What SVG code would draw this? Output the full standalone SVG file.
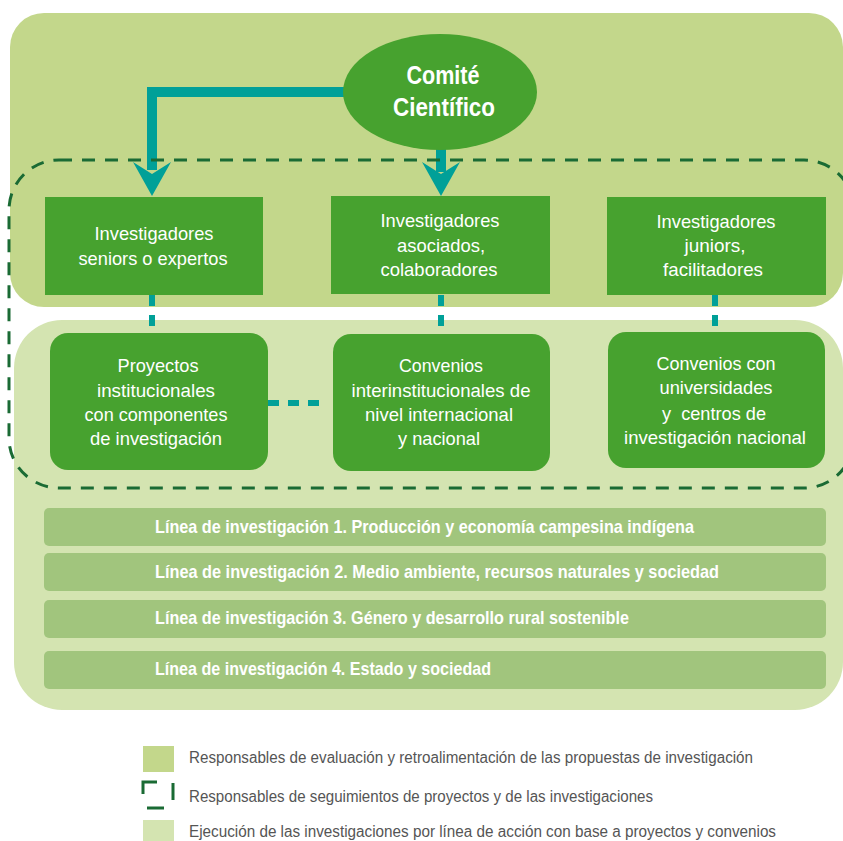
<svg xmlns="http://www.w3.org/2000/svg" width="843" height="841" viewBox="0 0 843 841">
<defs>
<style>
.t{font-family:"Liberation Sans Narrow","Liberation Sans",Arial,sans-serif;fill:#fff;font-size:19px;text-anchor:middle}
.b{font-family:"Liberation Sans Narrow","Liberation Sans",Arial,sans-serif;fill:#fff;font-size:19px;font-weight:bold}
.c{font-family:"Liberation Sans Narrow","Liberation Sans",Arial,sans-serif;fill:#fff;font-size:26px;font-weight:bold;text-anchor:middle}
.l{font-family:"Liberation Sans Narrow","Liberation Sans",Arial,sans-serif;fill:#555;font-size:16px}
.box{fill:#47A22F}
.bar{fill:#A1C57D}
.teal{fill:#00A098}
.td{stroke:#00A098;stroke-width:6;fill:none;stroke-dasharray:11 9}
</style>
</defs>
<rect width="843" height="841" fill="#fff"/>
<!-- panels -->
<rect id="panel-top" x="10" y="13" width="833" height="294" rx="34" fill="#C3D78B"/>
<rect id="panel-bottom" x="14" y="320" width="829" height="390" rx="48" fill="#D4E4B1"/>

<g id="connectors">
<path class="teal" d="M147,87 H350 V97 H157 V170 H147 Z"/>
<polygon class="teal" points="133,162 152,174 171,162 152,196"/>
<rect class="teal" x="436" y="140" width="10" height="32"/>
<polygon class="teal" points="422,162 441,174 460,162 441,196"/>
<line class="td" x1="152" y1="295" x2="152" y2="333"/>
<line class="td" x1="441" y1="295" x2="441" y2="333"/>
<line class="td" x1="715" y1="295" x2="715" y2="333"/>
<line class="td" x1="268" y1="403" x2="328" y2="403"/>
</g>

<rect id="dashed-frame" x="9" y="160" width="845" height="328" rx="50" fill="none" stroke="#1A6B34" stroke-width="3" stroke-dasharray="13 10"/>

<g id="comite">
<ellipse cx="440" cy="92" rx="97" ry="58" class="box"/>
<text class="c" x="443" y="84" textLength="73" lengthAdjust="spacingAndGlyphs">Comité</text>
<text class="c" x="444" y="116" textLength="102" lengthAdjust="spacingAndGlyphs">Científico</text>
</g>

<g id="inv-seniors">
<rect class="box" x="45" y="197" width="218" height="98"/>
<text class="t" x="154" y="240" textLength="119" lengthAdjust="spacingAndGlyphs">Investigadores</text>
<text class="t" x="153" y="265" textLength="149" lengthAdjust="spacingAndGlyphs">seniors o expertos</text>
</g>
<g id="inv-asociados">
<rect class="box" x="331" y="196" width="219" height="98"/>
<text class="t" x="440" y="227" textLength="119" lengthAdjust="spacingAndGlyphs">Investigadores</text>
<text class="t" x="441" y="252" textLength="88" lengthAdjust="spacingAndGlyphs">asociados,</text>
<text class="t" x="439" y="276" textLength="117" lengthAdjust="spacingAndGlyphs">colaboradores</text>
</g>
<g id="inv-juniors">
<rect class="box" x="607" y="197" width="219" height="98"/>
<text class="t" x="716" y="228" textLength="119" lengthAdjust="spacingAndGlyphs">Investigadores</text>
<text class="t" x="715" y="252" textLength="61" lengthAdjust="spacingAndGlyphs">juniors,</text>
<text class="t" x="713" y="276" textLength="100" lengthAdjust="spacingAndGlyphs">facilitadores</text>
</g>

<g id="proyectos">
<rect class="box" x="50" y="333" width="218" height="137" rx="18"/>
<text class="t" x="158" y="372" textLength="81" lengthAdjust="spacingAndGlyphs">Proyectos</text>
<text class="t" x="156" y="397" textLength="118" lengthAdjust="spacingAndGlyphs">institucionales</text>
<text class="t" x="156" y="421" textLength="143" lengthAdjust="spacingAndGlyphs">con componentes</text>
<text class="t" x="156" y="445" textLength="132" lengthAdjust="spacingAndGlyphs">de investigación</text>
</g>
<g id="convenios-inter">
<rect class="box" x="333" y="334" width="217" height="137" rx="18"/>
<text class="t" x="441" y="372" textLength="84" lengthAdjust="spacingAndGlyphs">Convenios</text>
<text class="t" x="441" y="397" textLength="179" lengthAdjust="spacingAndGlyphs">interinstitucionales de</text>
<text class="t" x="439" y="421" textLength="148" lengthAdjust="spacingAndGlyphs">nivel internacional</text>
<text class="t" x="439" y="445" textLength="82" lengthAdjust="spacingAndGlyphs">y nacional</text>
</g>
<g id="convenios-univ">
<rect class="box" x="608" y="332" width="217" height="136" rx="18"/>
<text class="t" x="716" y="370" textLength="119" lengthAdjust="spacingAndGlyphs">Convenios con</text>
<text class="t" x="716" y="394" textLength="113" lengthAdjust="spacingAndGlyphs">universidades</text>
<text class="t" x="714" y="420" textLength="104" lengthAdjust="spacingAndGlyphs" xml:space="preserve">y  centros de</text>
<text class="t" x="715" y="444" textLength="182" lengthAdjust="spacingAndGlyphs">investigación nacional</text>
</g>

<g id="linea-1">
<rect class="bar" x="44" y="508" width="782" height="38" rx="5"/>
<text class="b" x="155" y="533" textLength="539" lengthAdjust="spacingAndGlyphs">Línea de investigación 1. Producción y economía campesina indígena</text>
</g>
<g id="linea-2">
<rect class="bar" x="44" y="553" width="782" height="38" rx="5"/>
<text class="b" x="155" y="578" textLength="564" lengthAdjust="spacingAndGlyphs">Línea de investigación 2. Medio ambiente, recursos naturales y sociedad</text>
</g>
<g id="linea-3">
<rect class="bar" x="44" y="600" width="782" height="38" rx="5"/>
<text class="b" x="155" y="624" textLength="474" lengthAdjust="spacingAndGlyphs">Línea de investigación 3. Género y desarrollo rural sostenible</text>
</g>
<g id="linea-4">
<rect class="bar" x="44" y="651" width="782" height="38" rx="5"/>
<text class="b" x="155" y="675" textLength="336" lengthAdjust="spacingAndGlyphs">Línea de investigación 4. Estado y sociedad</text>
</g>

<g id="legend">
<rect x="143" y="746" width="31" height="26" fill="#C3D78B"/>
<text class="l" x="189" y="763" textLength="564" lengthAdjust="spacingAndGlyphs">Responsables de evaluación y retroalimentación de las propuestas de investigación</text>
<path d="M143,794 V782 H157 M173,783 V800 M147,808 H164" fill="none" stroke="#1A6B34" stroke-width="3"/>
<text class="l" x="189" y="802" textLength="464" lengthAdjust="spacingAndGlyphs">Responsables de seguimientos de proyectos y de las investigaciones</text>
<rect x="143" y="820" width="31" height="21" fill="#D4E4B1"/>
<text class="l" x="189" y="837" textLength="587" lengthAdjust="spacingAndGlyphs">Ejecución de las investigaciones por línea de acción con base a proyectos y convenios</text>
</g>
</svg>
